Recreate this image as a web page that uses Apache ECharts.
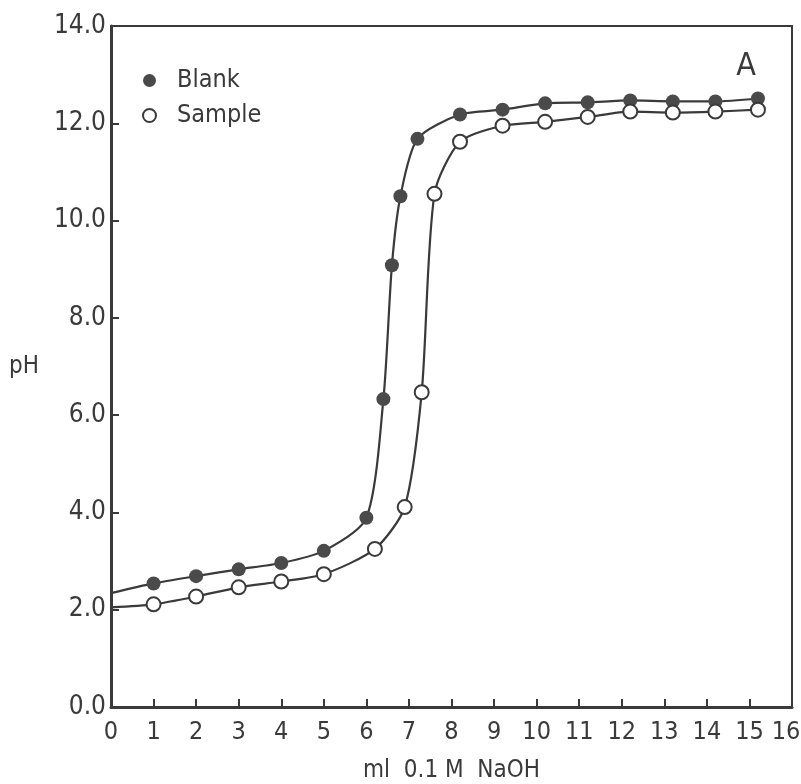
<!DOCTYPE html>
<html>
<head>
<meta charset="utf-8">
<script src="https://cdn.jsdelivr.net/npm/echarts@6/dist/echarts.min.js"></script>
<style>
  html, body { margin: 0; padding: 0; background: #fff; }
  #main { width: 801px; height: 784px; }
</style>
</head>
<body>
<div id="main"></div>
<script>
// ml 0.1 M NaOH added, and the pH read for each point
const blankMl = [0, 1, 2, 3, 4, 5, 6, 6.4, 6.6, 6.8, 7.2, 8.2, 9.2, 10.2, 11.2, 12.2, 13.2, 14.2, 15.2]
const blankPh = [2.34, 2.54, 2.69, 2.83, 2.96, 3.21, 3.89, 6.33, 9.08, 10.5, 11.68, 12.18, 12.28, 12.41, 12.43, 12.47, 12.45, 12.45, 12.51]
const sampleMl = [0, 1, 2, 3, 4, 5, 6.2, 6.9, 7.3, 7.6, 8.2, 9.2, 10.2, 11.2, 12.2, 13.2, 14.2, 15.2]
const samplePh = [2.05, 2.11, 2.27, 2.46, 2.58, 2.73, 3.25, 4.11, 6.47, 10.55, 11.62, 11.95, 12.03, 12.13, 12.24, 12.22, 12.24, 12.28]

const ink = '#3a3a3a'
const font = "'DejaVu Sans Condensed', 'Liberation Sans Narrow', 'DejaVu Sans'"

// first point (x = 0) is only where the fitted curve starts, no marker there
function toData(xs, ys) {
  return xs.map((x, i) => {
    if (i === 0) return { value: [x, ys[i]], symbol: 'none' }
    return [x, ys[i]]
  })
}

const myChart = echarts.init(document.getElementById('main'))
myChart.setOption({
  animation: false,
  backgroundColor: '#fff',
  title: {
    text: 'A',
    right: 40,
    top: 46,
    textStyle: { fontFamily: font, fontSize: 32, fontWeight: 'normal', color: ink }
  },
  legend: {
    orient: 'vertical',
    left: 137,
    top: 63,
    itemWidth: 13,
    itemHeight: 13,
    itemGap: 10,
    textStyle: { fontFamily: font, fontSize: 25, color: ink, padding: [0, 0, 0, 16] },
    data: [
      { name: 'Blank', icon: 'circle', itemStyle: { color: '#4a4a4a', borderWidth: 0 } },
      { name: 'Sample', icon: 'circle', itemStyle: { color: '#fff', borderColor: ink, borderWidth: 2 } }
    ]
  },
  grid: {
    left: 111,
    right: 9,
    top: 26,
    bottom: 77,
    outerBoundsMode: 'none',
    show: true,
    borderColor: ink,
    borderWidth: 2
  },
  xAxis: {
    type: 'value',
    min: 0,
    max: 16,
    interval: 1,
    name: 'ml  0.1 M  NaOH',
    nameLocation: 'middle',
    nameGap: 52,
    nameTextStyle: { fontFamily: font, fontSize: 24, color: ink },
    axisLine: { lineStyle: { color: ink, width: 3 } },
    axisTick: { inside: true, length: 8, lineStyle: { color: ink, width: 2 } },
    axisLabel: {
      fontFamily: font,
      fontSize: 25,
      color: ink,
      margin: 13,
      // last label sits at the canvas edge, nudge it left a little
      formatter: (v) => (v === 16 ? '{e|16}' : String(v)),
      rich: { e: { fontFamily: font, fontSize: 25, color: ink, padding: [0, 12, 0, 0] } }
    },
    splitLine: { show: false }
  },
  yAxis: {
    type: 'value',
    min: 0,
    max: 14,
    interval: 2,
    name: 'pH',
    nameLocation: 'middle',
    nameRotate: 0,
    nameGap: 72,
    nameTextStyle: { fontFamily: font, fontSize: 24, color: ink },
    axisLine: { lineStyle: { color: ink, width: 3 } },
    axisTick: { inside: true, length: 8, lineStyle: { color: ink, width: 2 } },
    axisLabel: {
      fontFamily: font,
      fontSize: 26,
      color: ink,
      margin: 5,
      formatter: (v) => v.toFixed(1)
    },
    splitLine: { show: false }
  },
  series: [
    {
      name: 'Blank',
      type: 'line',
      smooth: 0.25,
      symbol: 'circle',
      symbolSize: 14,
      lineStyle: { color: ink, width: 2.2 },
      itemStyle: { color: '#4a4a4a', borderWidth: 0 },
      data: toData(blankMl, blankPh)
    },
    {
      name: 'Sample',
      type: 'line',
      smooth: 0.25,
      symbol: 'circle',
      symbolSize: 14,
      lineStyle: { color: ink, width: 2.2 },
      itemStyle: { color: '#fff', borderColor: ink, borderWidth: 2 },
      data: toData(sampleMl, samplePh)
    }
  ]
})
</script>
</body>
</html>
